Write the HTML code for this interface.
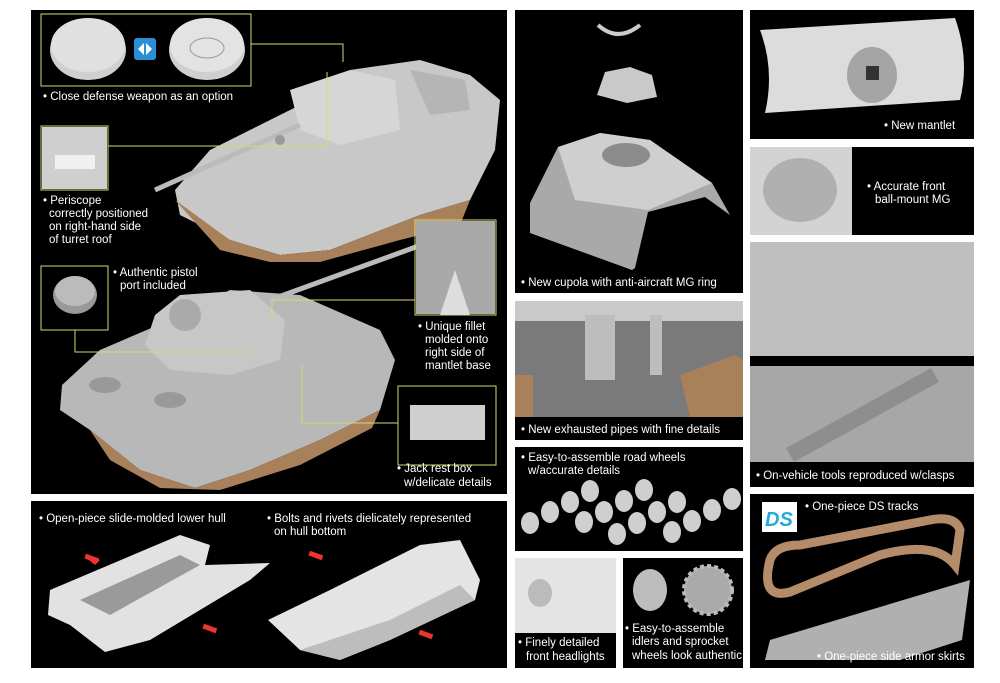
<!DOCTYPE html>
<html><head><meta charset="utf-8"><style>
html,body{margin:0;padding:0;background:#fff;width:1000px;height:683px;overflow:hidden}
svg{display:block}
text{font-family:"Liberation Sans",sans-serif;font-size:11.5px;fill:#fff}
</style></head><body>
<svg width="1000" height="683" viewBox="0 0 1000 683">
<rect width="1000" height="683" fill="#fff"/>
<!-- left big panel -->
<rect x="31" y="10" width="476" height="484" fill="#000"/>
<!-- tank 1 -->
<polygon points="175,190 210,150 300,105 350,70 420,60 470,75 500,100 495,150 470,200 420,215 330,250 280,255 230,240 180,215" fill="#c8c8c8"/>
<polygon points="175,200 230,240 280,255 330,250 420,215 470,200 460,225 400,240 320,262 270,262 220,250" fill="#a8805a"/>
<polygon points="290,90 350,70 395,80 400,130 340,145 300,130" fill="#d6d6d6"/>
<polygon points="410,70 465,80 470,110 430,115" fill="#b5b5b5"/>
<line x1="155" y1="190" x2="300" y2="125" stroke="#bbb" stroke-width="5"/>
<circle cx="280" cy="140" r="5" fill="#999"/>
<!-- tank 2 -->
<polygon points="62,385 100,350 170,320 230,290 300,295 380,330 395,360 380,410 320,440 250,470 195,488 140,470 90,430 60,410" fill="#b8b8b8"/>
<polygon points="90,430 140,470 195,488 250,470 320,440 380,410 372,428 300,465 220,490 160,488 110,460" fill="#a8805a"/>
<polygon points="155,315 180,295 250,290 285,320 280,360 230,375 170,370 145,345" fill="#c7c7c7"/>
<circle cx="185" cy="315" r="16" fill="#aaa"/>
<line x1="270" y1="300" x2="435" y2="240" stroke="#bbb" stroke-width="5"/>
<ellipse cx="105" cy="385" rx="16" ry="8" fill="#999"/>
<ellipse cx="170" cy="400" rx="16" ry="8" fill="#999"/>
<!-- insets -->
<g fill="none" stroke="#d8d870" stroke-width="1">
<rect x="41" y="14" width="210" height="72"/>
<rect x="41" y="126" width="67" height="64"/>
<rect x="41" y="266" width="67" height="64"/>
<rect x="415" y="220" width="81" height="95"/>
<rect x="398" y="386" width="98" height="79"/>
<polyline points="251,44 343,44 343,62"/>
<polyline points="108,146 327,146 327,72"/>
<polyline points="75,330 75,352 250,352"/>
<polyline points="415,300 272,300 272,318"/>
<polyline points="398,423 302,423 302,365"/>
</g>
<ellipse cx="88" cy="50" rx="38" ry="30" fill="#cfcfcf"/>
<ellipse cx="88" cy="45" rx="37" ry="27" fill="#e0e0e0"/>
<rect x="134" y="38" width="22" height="22" rx="3" fill="#2a8fd6"/>
<path d="M138 49 l6-6 v12z M152 49 l-6-6 v12z" fill="#fff"/>
<ellipse cx="207" cy="50" rx="38" ry="30" fill="#cfcfcf"/>
<ellipse cx="207" cy="45" rx="37" ry="27" fill="#e3e3e3"/>
<ellipse cx="207" cy="48" rx="17" ry="10" fill="none" stroke="#999"/>
<rect x="42" y="127" width="65" height="62" fill="#cfcfcf"/>
<rect x="55" y="155" width="40" height="14" fill="#f0f0f0"/>
<ellipse cx="75" cy="295" rx="22" ry="19" fill="#999"/>
<ellipse cx="75" cy="291" rx="20" ry="15" fill="#bbb"/>
<rect x="416" y="221" width="79" height="93" fill="#a9a9a9"/>
<polygon points="440,315 455,270 470,315" fill="#ddd"/>
<rect x="399" y="387" width="96" height="77" fill="#000"/>
<rect x="410" y="405" width="75" height="35" fill="#cfcfcf"/>
<text x="43" y="100">• Close defense weapon as an option</text>
<text x="43" y="204">• Periscope</text>
<text x="49" y="217">correctly positioned</text>
<text x="49" y="230">on right-hand side</text>
<text x="49" y="243">of turret roof</text>
<text x="113" y="276">• Authentic pistol</text>
<text x="120" y="289">port included</text>
<text x="418" y="330">• Unique fillet</text>
<text x="425" y="343">molded onto</text>
<text x="425" y="356">right side of</text>
<text x="425" y="369">mantlet base</text>
<text x="397" y="472">• Jack rest box</text>
<text x="404" y="486">w/delicate details</text>

<!-- bottom left -->
<rect x="31" y="501" width="476" height="167" fill="#000"/>
<text x="39" y="522">• Open-piece slide-molded lower hull</text>
<text x="267" y="522">• Bolts and rivets dielicately represented</text>
<text x="274" y="535">on hull bottom</text>
<polygon points="50,590 180,535 210,545 205,565 270,563 250,580 150,640 105,652 70,625 48,615" fill="#e2e2e2"/>
<polygon points="80,600 180,555 200,565 110,615" fill="#9a9a9a"/>
<polygon points="268,620 330,590 420,545 460,540 480,580 475,600 390,640 340,660 300,650" fill="#e4e4e4"/>
<polygon points="300,650 390,620 460,585 475,600 390,640 340,660" fill="#bdbdbd"/>
<polygon points="85,557 100,560 95,565" fill="#e33"/><rect x="85" y="556" width="14" height="5" fill="#e33" transform="rotate(20 92 558)"/>
<rect x="203" y="626" width="14" height="5" fill="#e33" transform="rotate(20 210 628)"/>
<rect x="309" y="553" width="14" height="5" fill="#e33" transform="rotate(20 316 555)"/>
<rect x="419" y="632" width="14" height="5" fill="#e33" transform="rotate(20 426 634)"/>

<!-- middle column -->
<rect x="515" y="10" width="228" height="283" fill="#000"/>
<path d="M598 25 q20 18 42 0" stroke="#ccc" stroke-width="4" fill="none"/>
<polygon points="597,95 605,72 630,67 652,75 657,97 627,103" fill="#c9c9c9"/>
<polygon points="530,203 558,147 600,133 650,140 712,183 730,215 705,197 648,212 635,268 632,270 530,233" fill="#a9a9a9"/>
<polygon points="558,147 600,133 650,140 712,183 648,210 575,200" fill="#cfcfcf"/>
<ellipse cx="626" cy="155" rx="24" ry="12" fill="#8c8c8c"/>
<text x="521" y="286">• New cupola with anti-aircraft MG ring</text>

<rect x="515" y="301" width="228" height="139" fill="#000"/>
<rect x="515" y="301" width="228" height="116" fill="#7a7a7a"/>
<rect x="515" y="301" width="228" height="20" fill="#c9c9c9"/>
<rect x="515" y="375" width="18" height="42" fill="#a8805a"/>
<polygon points="680,375 735,355 743,360 743,417 690,417" fill="#a8805a"/>
<rect x="585" y="315" width="30" height="65" fill="#bdbdbd"/>
<rect x="650" y="315" width="12" height="60" fill="#bdbdbd"/>
<text x="521" y="433">• New exhausted pipes with fine details</text>

<rect x="515" y="447" width="228" height="104" fill="#000"/>
<text x="521" y="461">• Easy-to-assemble road wheels</text>
<text x="528" y="474">w/accurate details</text>
<g fill="#cfcfcf">
<ellipse cx="530" cy="523" rx="9" ry="11"/><ellipse cx="550" cy="512" rx="9" ry="11"/><ellipse cx="570" cy="502" rx="9" ry="11"/><ellipse cx="590" cy="491" rx="9" ry="11"/>
<ellipse cx="584" cy="522" rx="9" ry="11"/><ellipse cx="604" cy="512" rx="9" ry="11"/><ellipse cx="624" cy="501" rx="9" ry="11"/><ellipse cx="644" cy="490" rx="9" ry="11"/>
<ellipse cx="617" cy="534" rx="9" ry="11"/><ellipse cx="637" cy="523" rx="9" ry="11"/><ellipse cx="657" cy="512" rx="9" ry="11"/><ellipse cx="677" cy="502" rx="9" ry="11"/>
<ellipse cx="672" cy="532" rx="9" ry="11"/><ellipse cx="692" cy="521" rx="9" ry="11"/><ellipse cx="712" cy="510" rx="9" ry="11"/><ellipse cx="732" cy="499" rx="9" ry="11"/>
</g>

<rect x="515" y="558" width="101" height="110" fill="#000"/>
<rect x="515" y="558" width="101" height="75" fill="#e4e4e4"/>
<ellipse cx="540" cy="593" rx="12" ry="14" fill="#bbb"/>
<text x="518" y="646">• Finely detailed</text>
<text x="526" y="660">front headlights</text>
<rect x="623" y="558" width="120" height="110" fill="#000"/>
<ellipse cx="650" cy="590" rx="17" ry="21" fill="#bdbdbd"/>
<circle cx="708" cy="590" r="24" fill="#aaa" stroke="#bbb" stroke-width="4" stroke-dasharray="4 3"/>
<text x="625" y="632">• Easy-to-assemble</text>
<text x="632" y="645">idlers and sprocket</text>
<text x="632" y="659">wheels look authentic</text>

<!-- right column -->
<rect x="750" y="10" width="224" height="129" fill="#000"/>
<path d="M760 30 L955 18 Q970 60 960 100 L765 113 Q775 70 760 30Z" fill="#dcdcdc"/>
<ellipse cx="872" cy="75" rx="25" ry="28" fill="#a5a5a5"/>
<rect x="866" y="66" width="13" height="14" fill="#333"/>
<text x="884" y="129">• New mantlet</text>
<rect x="750" y="147" width="224" height="88" fill="#000"/>
<rect x="750" y="147" width="102" height="88" fill="#d3d3d3"/>
<ellipse cx="800" cy="190" rx="37" ry="32" fill="#b0b0b0"/>
<text x="867" y="190">• Accurate front</text>
<text x="875" y="203">ball-mount MG</text>
<rect x="750" y="242" width="224" height="245" fill="#000"/>
<rect x="750" y="242" width="224" height="114" fill="#bfbfbf"/>
<rect x="750" y="366" width="224" height="96" fill="#a7a7a7"/>
<line x1="790" y1="455" x2="935" y2="375" stroke="#8e8e8e" stroke-width="16"/>
<text x="756" y="479">• On-vehicle tools reproduced w/clasps</text>
<rect x="750" y="494" width="224" height="174" fill="#000"/>
<rect x="762" y="502" width="35" height="30" fill="#fff"/>
<text x="765" y="526" style="font-size:20px;font-weight:bold;font-style:italic;fill:#22aadd">DS</text>
<text x="805" y="510">• One-piece DS tracks</text>
<path d="M770 560 Q760 600 790 592 L880 555 Q935 540 955 565 L960 530 Q955 515 930 520 L800 545 Q775 545 770 560Z" fill="none" stroke="#b48c6a" stroke-width="9"/>
<polygon points="765,660 770,640 970,580 962,640 900,660" fill="#b0b0b0"/>
<text x="817" y="660">• One-piece side armor skirts</text>
</svg>
</body></html>
